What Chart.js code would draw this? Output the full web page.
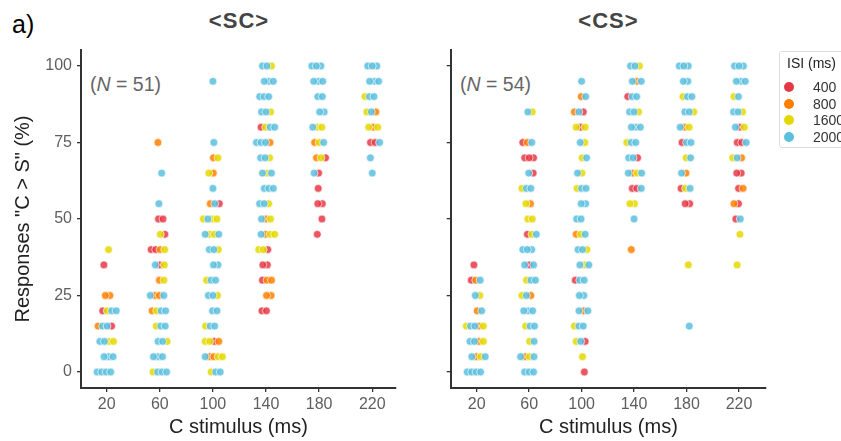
<!DOCTYPE html>
<html>
<head>
<meta charset="utf-8">
<script src="https://cdn.jsdelivr.net/npm/chart.js@4/dist/chart.umd.min.js"></script>
<style>
  body { margin: 0; width: 841px; height: 441px; background: #fff; position: relative; overflow: hidden;
         font-family: "Liberation Sans", Arial, sans-serif; }
  .abs { position: absolute; white-space: nowrap; line-height: 1; }
  #tag { left: 12px; top: 11.8px; font-size: 25px; color: #000; }
  .ttl { top: 9.8px; font-size: 22px; font-weight: bold; letter-spacing: 1px; color: #444;
         transform: translateX(-50%); }
  .nn { top: 75.4px; font-size: 19.5px; color: #666; }
  #wl { left: 0; top: 0; }
  #wr { left: 420px; top: 0; }
  #legend { left: 779px; top: 51px; width: 80px; height: 95px; border: 1px solid #dcdcdc; border-radius: 3px; }
  #legend .lt { position: absolute; left: 7px; top: 3.5px; font-size: 14px; color: #222; line-height: 1; }
  #legend .dot { position: absolute; left: 4px; width: 10px; height: 10px; border-radius: 50%; }
  #legend .lab { position: absolute; left: 33px; font-size: 14px; color: #333; line-height: 1; }
</style>
</head>
<body>
<div id="tag" class="abs">a)</div>
<div class="abs ttl" style="left:239px">&lt;SC&gt;</div>
<div class="abs ttl" style="left:608.5px">&lt;CS&gt;</div>
<div class="abs nn" style="left:90px">(<i>N</i> = 51)</div>
<div class="abs nn" style="left:460px">(<i>N</i> = 54)</div>
<div id="wl" class="abs"><canvas id="sc" width="420" height="441"></canvas></div>
<div id="wr" class="abs"><canvas id="cs" width="421" height="441"></canvas></div>
<div id="legend" class="abs"></div>

<script>
// C stimulus categories and ISI groups
const STIM = [20, 60, 100, 140, 180, 220];
const Y_TICKS = [0, 25, 50, 75, 100];
const ISI = [400, 800, 1600, 2000];
const ISI_COLORS = ['#E63946', '#FF8000', '#E5D800', '#5BC0DE'];

// responses (%) per participant, one inner list per C stimulus (20..220)
// <SC>
const SC_400 = [
  [15, 20, 35],
  [35, 40, 40, 45, 50, 50],
  [10, 55],
  [20, 20, 30, 35, 35, 40, 80],
  [45, 50, 55, 55, 60, 65, 70],
  [75, 75]
];
const SC_800 = [
  [15, 25, 25],
  [20, 25, 25, 30, 40, 75],
  [5, 5, 10, 55, 65, 70],
  [25, 25, 30, 30, 45, 50, 75],
  [70, 75],
  [80, 85]
];
const SC_1600 = [
  [10, 10, 20, 40],
  [0, 10, 15, 20, 30, 35, 40, 45],
  [0, 5, 5, 10, 10, 15, 25, 30, 40, 45, 45, 50, 50, 50, 65, 70],
  [40, 40, 45, 45, 50, 55, 65, 70, 80, 85, 100],
  [70, 75, 80, 80],
  [80, 80, 85, 90]
];
const SC_2000 = [
  [0, 0, 0, 0, 5, 5, 5, 10, 10, 15, 15, 20, 20],
  [0, 0, 0, 5, 5, 5, 10, 10, 15, 15, 20, 20, 25, 25, 35, 55, 65],
  [0, 0, 5, 15, 15, 20, 20, 25, 25, 30, 30, 35, 35, 40, 40, 45, 45, 50, 55, 60, 75, 95],
  [45, 50, 55, 55, 60, 60, 60, 65, 65, 70, 70, 75, 75, 75, 80, 80, 85, 85, 90, 90, 90, 95, 95, 95, 100, 100],
  [65, 75, 80, 85, 85, 90, 90, 95, 95, 95, 100, 100, 100],
  [65, 70, 75, 85, 90, 90, 95, 95, 95, 100, 100, 100]
];
// <CS>
const CS_400 = [
  [30, 35],
  [35, 45, 65, 70, 70, 70, 75],
  [0, 10, 30, 80, 85],
  [60, 60, 70, 90],
  [55, 55, 60, 75],
  [50, 55, 60, 65, 65, 75, 75, 80]
];
const CS_800 = [
  [5, 10, 15, 20, 30],
  [5, 25, 55, 75],
  [20, 45, 85, 90],
  [40, 65, 95],
  [65, 80],
  [55, 60, 70]
];
const CS_1600 = [
  [5, 10, 15, 15, 25],
  [5, 10, 15, 25, 30, 45, 50, 50, 55, 60, 85],
  [5, 10, 15, 35, 40, 45, 60, 65, 70, 75, 80, 80],
  [55, 55, 65, 75, 85, 100],
  [35, 60, 70, 80, 85, 90],
  [35, 45, 70, 80, 85, 90]
];
const CS_2000 = [
  [0, 0, 0, 0, 5, 5, 10, 10, 15, 15, 20, 25, 30],
  [0, 0, 0, 5, 5, 10, 15, 15, 20, 20, 20, 25, 30, 30, 35, 35, 40, 40, 40, 45, 60, 60, 65, 75, 85],
  [10, 15, 15, 20, 20, 25, 25, 30, 30, 35, 35, 40, 40, 45, 50, 50, 55, 55, 60, 60, 65, 70, 75, 85, 90, 95],
  [50, 60, 65, 65, 70, 70, 75, 75, 80, 80, 80, 85, 85, 90, 90, 95, 95, 100, 100],
  [15, 60, 65, 70, 75, 75, 80, 85, 85, 90, 90, 95, 95, 100, 100, 100],
  [50, 70, 75, 80, 85, 85, 90, 95, 95, 95, 100, 100, 100]
];

const FONT = '"Liberation Sans", Arial, sans-serif';
const AXIS = '#333';

// spread the points of one (stimulus, response) cell side by side, like a horizontal jitter
function jitterPanel(panel) {
  const out = panel.map(() => []);
  STIM.forEach((s, si) => {
    const groups = {};
    panel.forEach((ser, k) => ser[si].forEach(v => (groups[v] = groups[v] || []).push(k)));
    Object.keys(groups).forEach(key => {
      const lv = +key, g = groups[key], n = g.length;
      const li = Math.round(lv / 5);
      const gap = n > 1 ? Math.min(3.4, 13 / (n - 1)) : 0;
      const shift = ((li * 5 + si * 3) % 7 - 3) * 0.7;
      g.forEach((k, j) => {
        const slot = (j + li) % n;
        out[k].push({ x: s + shift + (slot - (n - 1) / 2) * gap, y: lv });
      });
    });
  });
  return out;
}

function makeChart(id, panel, xMin, xMax, yWidth, rightPad, withLabels) {
  const pts = jitterPanel(panel);
  return new Chart(document.getElementById(id), {
    type: 'scatter',
    data: {
      datasets: ISI.map((isi, k) => ({
        label: String(isi),
        data: pts[k],
        order: ISI.length - 1 - k,
        pointRadius: 3.9,
        pointHoverRadius: 3.9,
        backgroundColor: ISI_COLORS[k] + 'D9',
        borderColor: 'rgba(255,255,255,0.9)',
        borderWidth: 0.7
      }))
    },
    options: {
      responsive: false,
      animation: false,
      events: [],
      layout: { padding: { top: 50, right: rightPad, bottom: 0, left: 0 } },
      plugins: { legend: { display: false }, tooltip: { enabled: false } },
      scales: {
        x: {
          type: 'linear', min: xMin, max: xMax,
          afterBuildTicks: s => { s.ticks = STIM.map(v => ({ value: v })); },
          afterFit: s => { s.height = 53; },
          grid: { drawOnChartArea: false, drawTicks: true, tickLength: 4, color: AXIS, lineWidth: 1.3 },
          border: { display: true, color: AXIS, width: 2 },
          ticks: { color: '#5e5e5e', font: { family: FONT, size: 16 }, padding: 3, maxRotation: 0 },
          title: { display: true, text: 'C stimulus (ms)', color: '#222', font: { family: FONT, size: 20 },
                   padding: { top: 0, bottom: 2 } }
        },
        y: {
          type: 'linear', min: -5.23, max: 105.23,
          afterBuildTicks: s => { s.ticks = Y_TICKS.map(v => ({ value: v })); },
          afterFit: s => { s.width = yWidth; },
          grid: { drawOnChartArea: false, drawTicks: true, tickLength: 4, color: AXIS, lineWidth: 1.3 },
          border: { display: true, color: AXIS, width: 2 },
          ticks: { color: withLabels ? '#5e5e5e' : 'rgba(0,0,0,0)', font: { family: FONT, size: 16 }, padding: 5 },
          title: { display: withLabels, text: 'Responses "C > S" (%)', color: '#222',
                   font: { family: FONT, size: 20 }, padding: { top: 11, bottom: 0 } }
        }
      }
    }
  });
}

makeChart('sc', [SC_400, SC_800, SC_1600, SC_2000], 0.65, 237.65, 81, 24.3, true);
makeChart('cs', [CS_400, CS_800, CS_1600, CS_2000], 0.2, 240.6, 30.7, 75, false);

// legend
const lg = document.getElementById('legend');
lg.innerHTML = '<div class="lt">ISI (ms)</div>' + ISI.map((isi, k) => {
  const cy = 35 + k * 16.7;
  return `<div class="dot" style="top:${cy - 5}px;background:${ISI_COLORS[k]}"></div>` +
         `<div class="lab" style="top:${cy - 7.2}px">${isi}</div>`;
}).join('');
</script>
</body>
</html>
